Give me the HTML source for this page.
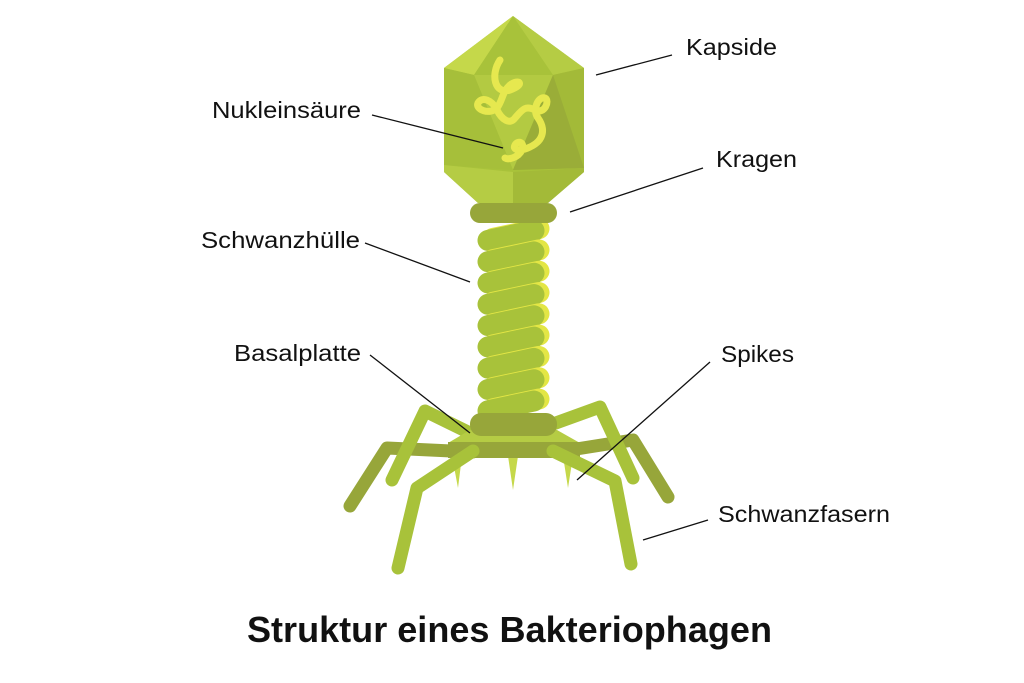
<!DOCTYPE html>
<html><head><meta charset="utf-8"><style>
html,body{margin:0;padding:0;background:#fff;}
svg{display:block;}
text{font-family:"Liberation Sans",sans-serif;fill:#111;}
</style></head><body>
<svg width="1024" height="683" viewBox="0 0 1024 683">
<g stroke-linecap="round" stroke-linejoin="round" fill="none" stroke-width="13">
  <polyline points="473,452 387,448 350,506" stroke="#97a63a"/>
  <polyline points="570,450 633,440 668,497" stroke="#97a63a"/>
  <polyline points="472,434 425,411 392,480" stroke="#a8c23a"/>
  <polyline points="553,424 600,407 633,478" stroke="#a8c23a"/>
</g>
<g fill="#c5d84a">
  <polygon points="452,456 462,456 458,488"/>
  <polygon points="508,456 518,456 513,490"/>
  <polygon points="563,456 573,456 568,488"/>
</g>
<g>
  <polygon points="470,430 557,430 580,443 448,443" fill="#b5cc44"/>
  <rect x="448" y="442" width="132" height="16" fill="#97a63a"/>
</g>
<g stroke-linecap="round" stroke-linejoin="round" fill="none" stroke-width="13" stroke="#a8c23a">
  <polyline points="473,451 417,488 398,568"/>
  <polyline points="553,451 615,481 631,564"/>
</g>
<g id="sheath"></g>
<rect x="470" y="413" width="87" height="23" rx="11" fill="#97a63a"/>
<g>
  <polygon points="513,16 584,68 584,172 548,203 478,203 444,172 444,68" fill="#a8c23a"/>
  <polygon points="513,16 444,68 474,75" fill="#c5d84a"/>
  <polygon points="513,16 474,75 553,75" fill="#a8c23a"/>
  <polygon points="513,16 553,75 584,68" fill="#b5cc44"/>
  <polygon points="474,75 553,75 513,170" fill="#b3ca42"/>
  <polygon points="553,75 584,68 584,168 513,170" fill="#a3ba38"/>
  <polygon points="553,75 584,168 513,170" fill="#9aad38"/>
  <polygon points="444,68 474,75 513,170 444,165" fill="#a6bf3a"/>
  <polygon points="444,165 513,172 513,203 478,203 444,172" fill="#b5cc44"/>
  <polygon points="513,172 584,168 584,172 548,203 513,203" fill="#a3ba38"/>
  <path d="M500,60 C490,75 495,95 510,90 C525,85 520,78 510,85 C502,92 503,100 497,108 C490,115 475,110 478,103 C482,96 492,100 497,110 C502,120 510,125 515,118 C522,110 525,105 535,110 C545,115 550,100 545,98 C538,96 532,110 538,118 C545,128 545,140 530,147 C520,152 512,150 515,145 C518,140 525,142 522,150 C518,158 508,160 505,158" fill="none" stroke="#e6e84f" stroke-width="7" stroke-linecap="round"/>
</g>
<rect x="470" y="203" width="87" height="20" rx="10" fill="#97a63a"/>
<g stroke="#111" stroke-width="1.3">
  <line x1="596" y1="75" x2="672" y2="55"/>
  <line x1="372" y1="115" x2="503" y2="148"/>
  <line x1="570" y1="212" x2="703" y2="168"/>
  <line x1="365" y1="243" x2="470" y2="282"/>
  <line x1="370" y1="355" x2="470" y2="433"/>
  <line x1="710" y1="362" x2="577" y2="480"/>
  <line x1="643" y1="540" x2="708" y2="520"/>
</g>
<g font-size="23">
  <text x="686" y="55" textLength="91" lengthAdjust="spacingAndGlyphs">Kapside</text>
  <text x="212" y="118" textLength="149" lengthAdjust="spacingAndGlyphs">Nukleinsäure</text>
  <text x="716" y="167" textLength="81" lengthAdjust="spacingAndGlyphs">Kragen</text>
  <text x="201" y="248" textLength="159" lengthAdjust="spacingAndGlyphs">Schwanzhülle</text>
  <text x="234" y="361" textLength="127" lengthAdjust="spacingAndGlyphs">Basalplatte</text>
  <text x="721" y="362" textLength="73" lengthAdjust="spacingAndGlyphs">Spikes</text>
  <text x="718" y="522" textLength="172" lengthAdjust="spacingAndGlyphs">Schwanzfasern</text>
</g>
<text x="247" y="642" font-size="36" font-weight="bold" textLength="525" lengthAdjust="spacingAndGlyphs">Struktur eines Bakteriophagen</text>
</svg>
<script>
var g=document.getElementById('sheath');
var ns='http://www.w3.org/2000/svg';
for(var i=0;i<9;i++){
  var y=223+i*21.3;
  var b=document.createElementNS(ns,'rect');
  
  
  b.setAttribute('x',482);b.setAttribute('y',y);b.setAttribute('width',68);b.setAttribute('height',21);b.setAttribute('rx',10.5);
  b.setAttribute('fill','#e3e645');
  b.setAttribute('transform','rotate(-12 '+516+' '+(y+10.5)+')');
  g.appendChild(b);
  var r=document.createElementNS(ns,'rect');
  
  
  r.setAttribute('x',477);r.setAttribute('y',y+2);r.setAttribute('width',68);r.setAttribute('height',21);r.setAttribute('rx',10.5);
  r.setAttribute('fill','#a8c23a');
  r.setAttribute('transform','rotate(-12 '+511+' '+(y+12.5)+')');
  g.appendChild(r);
}
</script>
</body></html>
